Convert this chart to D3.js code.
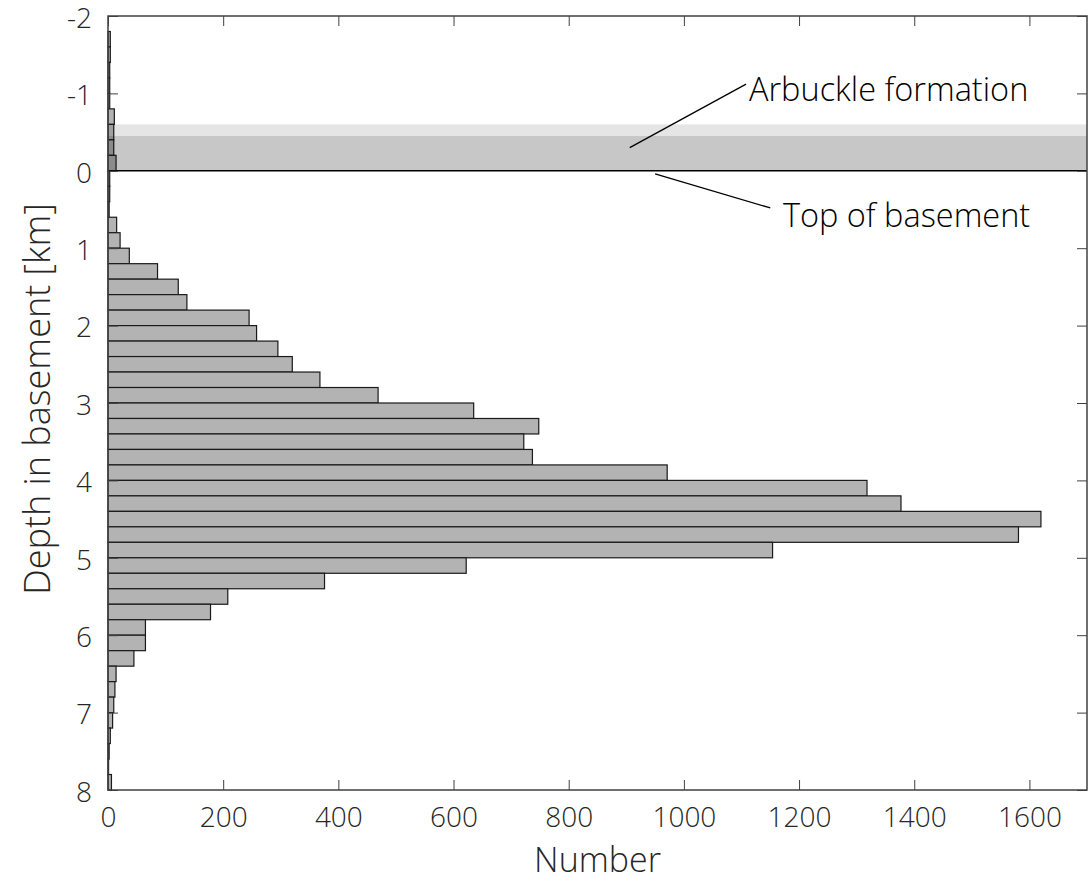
<!DOCTYPE html>
<html>
<head>
<meta charset="utf-8">
<script src="https://cdn.jsdelivr.net/npm/d3@7"></script>
<style>
  body { margin: 0; background: #fff; }
  text { font-family: "Open Sans", "Noto Sans", sans-serif; font-weight: 300; fill: #262626; }
</style>
</head>
<body>
<svg id="hist_svg"></svg>
<script>
var viewWidth = 1091;
var viewHeight = 885;

var margin = {top: 16, right: 4, bottom: 95, left: 108};
var width = viewWidth - margin.left - margin.right;
var height = viewHeight - margin.top - margin.bottom;

// bin edges (top of each 0.2 km bin) and counts
var binStart = [-2.0, -1.8, -1.6, -1.4, -1.2, -1.0, -0.8, -0.6, -0.4, -0.2,
                 0.0,  0.2,  0.4,  0.6,  0.8,  1.0,  1.2,  1.4,  1.6,  1.8,
                 2.0,  2.2,  2.4,  2.6,  2.8,  3.0,  3.2,  3.4,  3.6,  3.8,
                 4.0,  4.2,  4.4,  4.6,  4.8,  5.0,  5.2,  5.4,  5.6,  5.8,
                 6.0,  6.2,  6.4,  6.6,  6.8,  7.0,  7.2,  7.4,  7.6,  7.8];
var counts = [0, 4, 4, 3, 3, 3, 11, 10, 10, 14,
              3, 3, 2, 15, 21, 37, 86, 122, 137, 245,
              258, 295, 320, 368, 469, 635, 748, 722, 737, 971,
              1318, 1377, 1620, 1581, 1154, 622, 376, 208, 178, 65,
              65, 45, 14, 12, 10, 8, 4, 2, 1, 6];
var binSize = 0.2;

var xTicks = [0, 200, 400, 600, 800, 1000, 1200, 1400, 1600];
var yTicks = [-2, -1, 0, 1, 2, 3, 4, 5, 6, 7, 8];

// Arbuckle formation shading (depth ranges, km)
var bandOuter = [-0.6, 0];
var bandInner = [-0.45, 0];

var labels = ["Arbuckle formation", "Top of basement"];
var labelPos = [[1113, -0.9], [1172, 0.72]];
var pointerFrom = [[906, -0.3], [950, 0.04]];
var pointerTo = [[1108, -1.12], [1150, 0.48]];

var svg = d3.select("#hist_svg")
    .attr("width", viewWidth)
    .attr("height", viewHeight)
  .append("g")
    .attr("transform", "translate(" + margin.left + "," + margin.top + ")");

var x = d3.scaleLinear().domain([0, 1700]).range([0, width]);
var y = d3.scaleLinear().domain([-2, 8]).range([0, height]);

var data = binStart.map(function(d, i) { return {d: d, n: counts[i]}; });

svg.selectAll(".bar")
    .data(data.filter(function(d) { return d.n > 0; }))
  .enter().append("rect")
    .attr("class", "bar")
    .attr("x", x(0))
    .attr("y", function(d) { return y(d.d); })
    .attr("width", function(d) { return x(d.n) - x(0); })
    .attr("height", function(d) { return y(d.d + binSize) - y(d.d); })
    .style("fill", "#b3b3b3")
    .style("stroke", "#1a1a1a")
    .style("stroke-width", 1.2);

// shaded band on top of bars
svg.append("rect")
    .attr("x", 0).attr("width", width)
    .attr("y", y(bandOuter[0]))
    .attr("height", y(bandOuter[1]) - y(bandOuter[0]))
    .style("fill", "#000").style("fill-opacity", 0.1);
svg.append("rect")
    .attr("x", 0).attr("width", width)
    .attr("y", y(bandInner[0]))
    .attr("height", y(bandInner[1]) - y(bandInner[0]))
    .style("fill", "#000").style("fill-opacity", 0.13);

// top of basement line
svg.append("line")
    .attr("x1", 0).attr("x2", width)
    .attr("y1", y(0)).attr("y2", y(0))
    .style("stroke", "#000").style("stroke-width", 1.5);

// axes (MATLAB style box with inward ticks)
var tickLen = 10;
var axisColor = "#404040";
var plain = function(d) { return String(d); };

svg.append("g")
    .attr("transform", "translate(0," + height + ")")
    .call(d3.axisBottom(x).tickValues(xTicks).tickSize(-tickLen).tickPadding(10).tickFormat(plain))
    .call(function(g) { g.select(".domain").remove(); })
    .call(function(g) { g.selectAll("line").style("stroke", axisColor); })
    .call(function(g) { g.selectAll("text").attr("dy", "0.95em").style("font-size", "28px").style("font-family", null); });

svg.append("g")
    .call(d3.axisTop(x).tickValues(xTicks).tickSize(-tickLen).tickFormat(""))
    .call(function(g) { g.select(".domain").remove(); })
    .call(function(g) { g.selectAll("line").style("stroke", axisColor); });

svg.append("g")
    .call(d3.axisLeft(y).tickValues(yTicks).tickSize(-tickLen).tickPadding(16).tickFormat(plain))
    .call(function(g) { g.select(".domain").remove(); })
    .call(function(g) { g.selectAll("line").style("stroke", axisColor); })
    .call(function(g) { g.selectAll("text").attr("dy", "0.4em").style("font-size", "28px").style("font-family", null); });

svg.append("g")
    .attr("transform", "translate(" + width + ",0)")
    .call(d3.axisRight(y).tickValues(yTicks).tickSize(-tickLen).tickFormat(""))
    .call(function(g) { g.select(".domain").remove(); })
    .call(function(g) { g.selectAll("line").style("stroke", axisColor); });

svg.append("rect")
    .attr("width", width)
    .attr("height", height)
    .style("fill", "none")
    .style("stroke", axisColor)
    .style("stroke-width", 1.5);

// axis labels
svg.append("text")
    .attr("x", width / 2)
    .attr("y", height + 82)
    .style("text-anchor", "middle")
    .style("font-size", "34px")
    .text("Number");

svg.append("text")
    .attr("transform", "rotate(-90)")
    .attr("x", -height / 2 + 4)
    .attr("y", -58)
    .style("text-anchor", "middle")
    .style("font-size", "36px")
    .text("Depth in basement [km]");

// annotations
svg.selectAll(".pointer")
    .data(labels)
  .enter().append("line")
    .attr("class", "pointer")
    .attr("x1", function(d, i) { return x(pointerFrom[i][0]); })
    .attr("y1", function(d, i) { return y(pointerFrom[i][1]); })
    .attr("x2", function(d, i) { return x(pointerTo[i][0]); })
    .attr("y2", function(d, i) { return y(pointerTo[i][1]); })
    .style("stroke", "#000")
    .style("stroke-width", 1.3);

svg.selectAll(".note")
    .data(labels)
  .enter().append("text")
    .attr("class", "note")
    .attr("x", function(d, i) { return x(labelPos[i][0]); })
    .attr("y", function(d, i) { return y(labelPos[i][1]); })
    .style("font-size", "32.5px")
    .style("fill", "#000")
    .text(function(d) { return d; });
</script>
</body>
</html>
